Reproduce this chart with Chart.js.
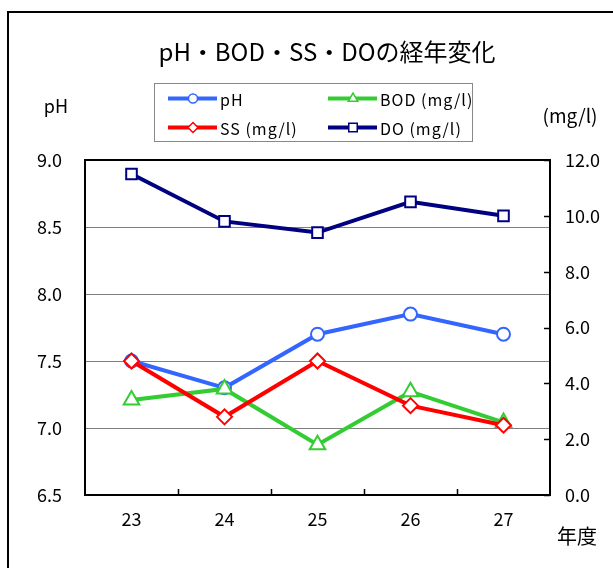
<!DOCTYPE html>
<html><head><meta charset="utf-8">
<script src="https://cdn.jsdelivr.net/npm/chart.js@4/dist/chart.umd.min.js"></script>
<style>html,body{margin:0;padding:0;background:#fff;overflow:hidden;} canvas{display:block;}</style>
</head><body>
<canvas id="c" width="613" height="568"></canvas>
<script>
// ---- data ----
const years = ['23', '24', '25', '26', '27'];
const phValues = [7.5, 7.3, 7.7, 7.85, 7.7];
const bodValues = [3.4, 3.8, 1.8, 3.7, 2.6];
const ssValues = [4.8, 2.8, 4.8, 3.2, 2.5];
const doValues = [11.5, 9.8, 9.4, 10.5, 10.0];
const seriesNames = ['pH', 'BOD (mg/l)', 'SS (mg/l)', 'DO (mg/l)'];
const titleText = 'pH・BOD・SS・DOの経年変化';
const leftAxisTitle = 'pH';
const rightAxisTitle = '(mg/l)';
const xAxisTitle = '年度';
const leftTicks = { min: 6.5, max: 9.0, step: 0.5 };
const rightTicks = { min: 0, max: 12, step: 2 };

const FONT = '"Noto Sans CJK JP", "Noto Sans", sans-serif';
const colors = { ph: '#3366ff', bod: '#33cc33', ss: '#ff0000', do: '#000080' };

function drawMarker(ctx, style, r, x, y) {
  if (Chart.helpers && Chart.helpers.drawPoint) {
    Chart.helpers.drawPoint(ctx, { pointStyle: style, radius: r, rotation: 0, borderWidth: ctx.lineWidth }, x, y);
    return;
  }
  ctx.beginPath();
  if (style === 'circle') ctx.arc(x, y, r, 0, Math.PI * 2);
  else if (style === 'rect') { const s = r * Math.SQRT1_2; ctx.rect(x - s, y - s, 2 * s, 2 * s); }
  else if (style === 'rectRot') { ctx.moveTo(x, y - r); ctx.lineTo(x + r, y); ctx.lineTo(x, y + r); ctx.lineTo(x - r, y); ctx.closePath(); }
  else if (style === 'triangle') { const e = r * Math.sqrt(3); ctx.moveTo(x, y - r); ctx.lineTo(x + e / 2, y + r / 2); ctx.lineTo(x - e / 2, y + r / 2); ctx.closePath(); }
  ctx.fill(); ctx.stroke();
}

const decor = {
  id: 'decor',
  beforeDraw(chart) {
    const ctx = chart.ctx;
    ctx.save();
    ctx.fillStyle = '#fff';
    ctx.fillRect(0, 0, chart.width, chart.height);
    ctx.strokeStyle = '#000';
    ctx.lineWidth = 2;
    ctx.strokeRect(8, 12, 900, 900);
    ctx.restore();
  },
  beforeDatasetsDraw(chart) {
    const { ctx, chartArea: a, scales } = chart;
    ctx.save();
    ctx.strokeStyle = '#000';
    ctx.lineWidth = 2;
    ctx.strokeRect(a.left, a.top, a.right - a.left, a.bottom - a.top);
    ctx.lineWidth = 1.5;
    ctx.beginPath();
    const xs = scales.x;
    for (let i = 1; i < years.length; i++) {
      const px = Math.round((xs.getPixelForValue(i - 1) + xs.getPixelForValue(i)) / 2) + 0.5;
      ctx.moveTo(px, a.bottom); ctx.lineTo(px, a.bottom - 6);
    }
    const yr = scales.y1;
    yr.ticks.forEach(t => {
      const py = Math.round(yr.getPixelForValue(t.value)) + 0.5;
      ctx.moveTo(a.right - 6, py); ctx.lineTo(a.right, py);
    });
    ctx.stroke();
    ctx.restore();
  },
  afterDraw(chart) {
    const ctx = chart.ctx;
    ctx.save();
    ctx.fillStyle = '#000';
    ctx.textBaseline = 'middle';
    // title
    ctx.textAlign = 'center';
    ctx.font = '24px ' + FONT;
    ctx.fillText(titleText, 327, 52);
    // axis titles
    ctx.font = '18px ' + FONT;
    ctx.fillText(leftAxisTitle, 56, 106);
    ctx.font = '19px ' + FONT;
    ctx.fillText(rightAxisTitle, 570, 116);
    ctx.font = '20px ' + FONT;
    ctx.fillText(xAxisTitle, 577, 536);
    // legend box
    ctx.strokeStyle = '#888';
    ctx.lineWidth = 1;
    ctx.strokeRect(154.5, 83.5, 318, 58);
    const cols = [168, 328];
    const rows = [98.5, 127.5];
    const legendRadius = [4.5, 5.5, 5, 6];
    ctx.textAlign = 'left';
    ctx.font = '16px ' + FONT;
    try { ctx.letterSpacing = '1px'; } catch (e) {}
    chart.data.datasets.forEach((ds, i) => {
      const x0 = cols[i % 2], y = rows[Math.floor(i / 2)];
      ctx.strokeStyle = ds.borderColor;
      ctx.lineWidth = 4;
      ctx.beginPath(); ctx.moveTo(x0, y); ctx.lineTo(x0 + 49, y); ctx.stroke();
      ctx.fillStyle = '#fff';
      ctx.lineWidth = 1.5;
      drawMarker(ctx, ds.pointStyle, legendRadius[i], x0 + 25, y);
      ctx.fillStyle = '#000';
      ctx.fillText(ds.label, x0 + 52, y + 1);
    });
    ctx.restore();
  }
};

const tickFont = { family: FONT, size: 18 };

new Chart(document.getElementById('c'), {
  type: 'line',
  data: {
    labels: years,
    datasets: [
      { label: seriesNames[0], data: phValues, yAxisID: 'y', borderColor: colors.ph, pointStyle: 'circle', pointRadius: 6.5, order: 4 },
      { label: seriesNames[1], data: bodValues, yAxisID: 'y1', borderColor: colors.bod, pointStyle: 'triangle', pointRadius: 9, order: 3 },
      { label: seriesNames[2], data: ssValues, yAxisID: 'y1', borderColor: colors.ss, pointStyle: 'rectRot', pointRadius: 7.5, order: 2 },
      { label: seriesNames[3], data: doValues, yAxisID: 'y1', borderColor: colors.do, pointStyle: 'rect', pointRadius: 7.5, order: 1 }
    ].map(d => Object.assign(d, {
      borderWidth: 4,
      pointBackgroundColor: '#fff',
      pointBorderColor: d.borderColor,
      pointBorderWidth: 2,
      tension: 0,
      fill: false
    }))
  },
  options: {
    responsive: false,
    animation: false,
    events: [],
    layout: { padding: { top: 160, left: 0, right: 0, bottom: 0 } },
    plugins: { legend: { display: false }, title: { display: false }, tooltip: { enabled: false } },
    scales: {
      x: {
        type: 'category',
        offset: true,
        grid: { display: false, drawTicks: false },
        border: { display: false },
        ticks: { font: tickFont, color: '#000', padding: 13, maxRotation: 0 },
        afterFit(s) { s.height = 73; }
      },
      y: {
        position: 'left',
        min: leftTicks.min, max: leftTicks.max,
        ticks: { stepSize: leftTicks.step, font: tickFont, color: '#000', padding: 23, callback: v => Number(v).toFixed(1) },
        grid: { color: '#808080', lineWidth: 1, drawTicks: false },
        border: { display: false },
        afterFit(s) { s.width = 85; }
      },
      y1: {
        position: 'right',
        min: rightTicks.min, max: rightTicks.max,
        ticks: { stepSize: rightTicks.step, font: tickFont, color: '#000', padding: 15, callback: v => Number(v).toFixed(1) },
        grid: { display: false, drawTicks: false },
        border: { display: false },
        afterFit(s) { s.width = 63; }
      }
    }
  },
  plugins: [decor]
});
</script>
</body></html>
